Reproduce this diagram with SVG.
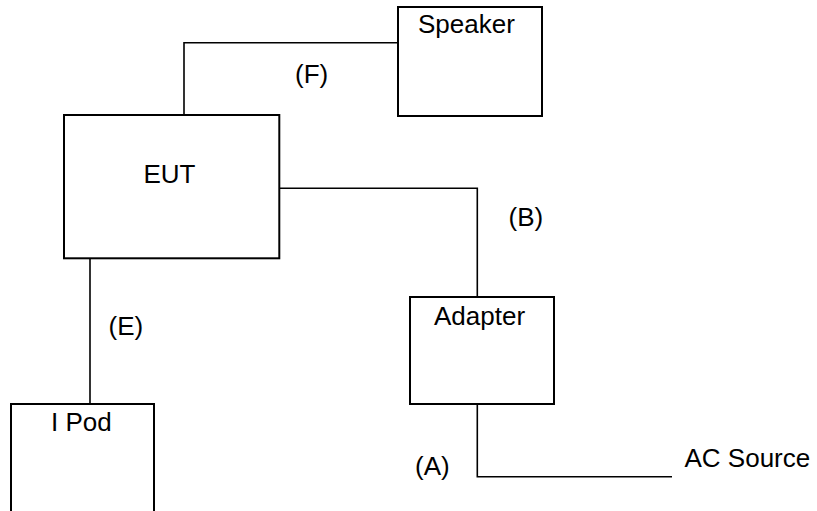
<svg xmlns="http://www.w3.org/2000/svg" width="817" height="511" viewBox="0 0 817 511">
<style>
.box{fill:#fff;stroke:#000;stroke-width:2}
.wire{fill:none;stroke:#000;stroke-width:1.6}
text{font-family:"Liberation Sans",Arial,sans-serif;font-size:26px;fill:#000}
</style>
<rect width="817" height="511" fill="#fff"/>
<g id="connectors">
<polyline class="wire" points="184,115 184,42.7 398,42.7"/>
<polyline class="wire" points="279.3,188.3 477.3,188.3 477.3,297"/>
<line class="wire" x1="90" y1="258.3" x2="90" y2="404"/>
<polyline class="wire" points="477.3,404 477.3,476.7 672,476.7"/>
<text x="295" y="82.7">(F)</text>
<text x="508.5" y="226">(B)</text>
<text x="108.5" y="335">(E)</text>
<text x="415" y="475">(A)</text>
</g>
<g id="speaker">
<rect class="box" x="398" y="7" width="144" height="109"/>
<text x="418" y="33.3">Speaker</text>
</g>
<g id="eut">
<rect class="box" x="64" y="115" width="215.3" height="143.3"/>
<text x="143.5" y="183.3">EUT</text>
</g>
<g id="adapter">
<rect class="box" x="410" y="297" width="144" height="107"/>
<text x="434" y="325">Adapter</text>
</g>
<g id="ipod">
<rect class="box" x="11" y="404" width="143" height="120"/>
<text x="51" y="430.7">I Pod</text>
</g>
<g id="ac-source">
<text x="684.5" y="466.7">AC Source</text>
</g>
</svg>
